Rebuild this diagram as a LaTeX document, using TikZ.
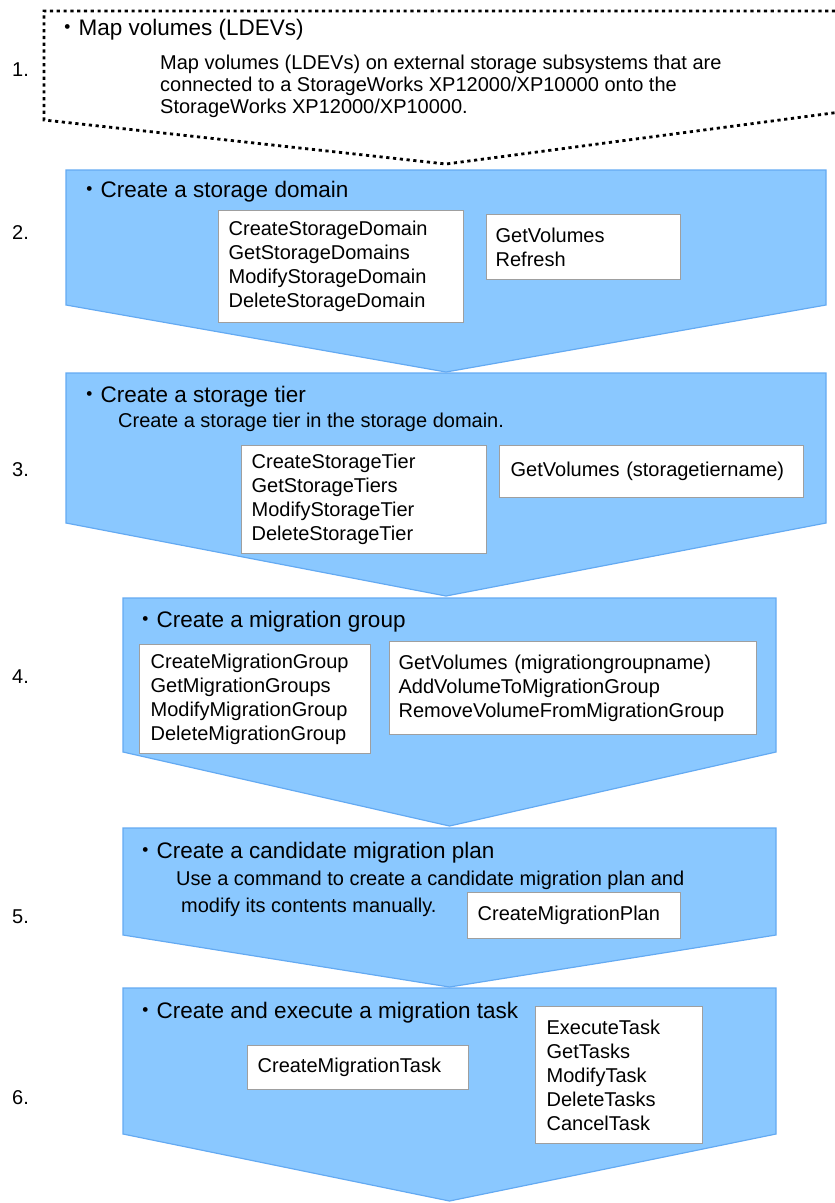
\documentclass[tikz,border=0pt]{standalone}
\usepackage{fontspec}
\setmainfont{Liberation Sans}
\newfontfamily\cjk{Noto Sans CJK JP}
\usepackage{tikz}
\definecolor{eBlue}{HTML}{8AC8FF}
\definecolor{eEdge}{HTML}{64AAF2}
\newcommand{\mdot}{{\cjk ・}}
\tikzset{chev/.style={fill=eBlue, draw=eEdge, line width=1.2pt}}
\tikzset{dotline/.style={draw, line width=2.8pt, dash pattern=on 3.2pt off 3.6pt}}
\tikzset{hd/.style={anchor=west, inner sep=0pt, font=\fontsize{22.5}{27}\selectfont}}
\tikzset{txt/.style={anchor=west, inner sep=0pt, align=left,
  font=\fontsize{20}{24}\selectfont}}
\tikzset{num/.style={anchor=west, inner sep=0pt, font=\fontsize{20}{24}\selectfont}}
\tikzset{cmd/.style={draw=gray!75, line width=1.3pt, fill=white, anchor=north west,
  align=left, inner xsep=10pt, inner ysep=0pt, font=\fontsize{20}{24}\selectfont}}

\begin{document}
\begin{tikzpicture}[x=1pt, y=-1pt]
  \useasboundingbox (0,0) rectangle (835,1203);
  %% 1. map volumes
  \draw [dotline] (848,111) -- (446,164) -- (44,120) -- (44,11) -- (848,11);
  \node (n1) at (12,70) [num] {1.};
  \node (t1) at (56,30) [hd] {\mdot Map volumes (LDEVs)};
  \node (p1) at (160,86) [txt, font=\fontsize{20}{22}\selectfont]
    {Map volumes (LDEVs) on external storage subsystems that are\\
     connected to a StorageWorks XP12000/XP10000 onto the\\
     StorageWorks XP12000/XP10000.};
  %% 2. storage domain
  \draw [chev] (66,170) -- (826,170) -- (826,305) -- (446,372) -- (66,305) -- cycle;
  \node (n2) at (12,233) [num] {2.};
  \node (t2) at (78,192) [hd] {\mdot Create a storage domain};
  \node (c2a) at (218,210) [cmd, text width=225pt, minimum height=112pt]
    {CreateStorageDomain\\GetStorageDomains\\ModifyStorageDomain\\DeleteStorageDomain};
  \node (c2b) at (486,214) [cmd, inner xsep=9pt, text width=176pt, minimum height=65pt]
    {GetVolumes\\Refresh};
  %% 3. storage tier
  \draw [chev] (66,373) -- (826,373) -- (826,523) -- (446,596) -- (66,523) -- cycle;
  \node (n3) at (12,470) [num] {3.};
  \node (t3) at (78,397) [hd] {\mdot Create a storage tier};
  \node (s3) at (118,422) [txt] {Create a storage tier in the storage domain.};
  \node (c3a) at (241,445) [cmd, text width=225pt, minimum height=108pt]
    {CreateStorageTier\\GetStorageTiers\\ModifyStorageTier\\DeleteStorageTier};
  \node (c3b) at (499,445) [cmd, inner xsep=11pt, text width=282pt, minimum height=52pt]
    {GetVolumes (storagetiername)};
  %% 4. migration group
  \draw [chev] (123,598) -- (776,598) -- (776,752) -- (449.5,826) -- (123,752) -- cycle;
  \node (n4) at (12,677) [num] {4.};
  \node (t4) at (134,622) [hd] {\mdot Create a migration group};
  \node (c4a) at (139,644) [cmd, inner xsep=11pt, text width=209pt, minimum height=109pt]
    {CreateMigrationGroup\\GetMigrationGroups\\ModifyMigrationGroup\\DeleteMigrationGroup};
  \node (c4b) at (389,641) [cmd, inner xsep=9pt, text width=349pt, minimum height=93pt]
    {GetVolumes (migrationgroupname)\\AddVolumeToMigrationGroup\\RemoveVolumeFromMigrationGroup};
  %% 5. migration plan
  \draw [chev] (123,828) -- (776,828) -- (776,935) -- (449.5,987) -- (123,935) -- cycle;
  \node (n5) at (12,917) [num] {5.};
  \node (t5) at (134,853) [hd] {\mdot Create a candidate migration plan};
  \node (s5a) at (176,880) [txt] {Use a command to create a candidate migration plan and};
  \node (s5b) at (181,907) [txt] {modify its contents manually.};
  \node (c5) at (467,892) [cmd, text width=193pt, minimum height=46pt]
    {CreateMigrationPlan};
  %% 6. migration task
  \draw [chev] (123,988) -- (776,988) -- (776,1134) -- (449.5,1201) -- (123,1134) -- cycle;
  \node (n6) at (12,1098) [num] {6.};
  \node (t6) at (134,1013) [hd] {\mdot Create and execute a migration task};
  \node (c6a) at (247,1045) [cmd, text width=201pt, minimum height=44pt]
    {CreateMigrationTask};
  \node (c6b) at (535,1006) [cmd, inner xsep=11pt, text width=145pt, minimum height=137pt]
    {ExecuteTask\\GetTasks\\ModifyTask\\DeleteTasks\\CancelTask};
\end{tikzpicture}
\end{document}
